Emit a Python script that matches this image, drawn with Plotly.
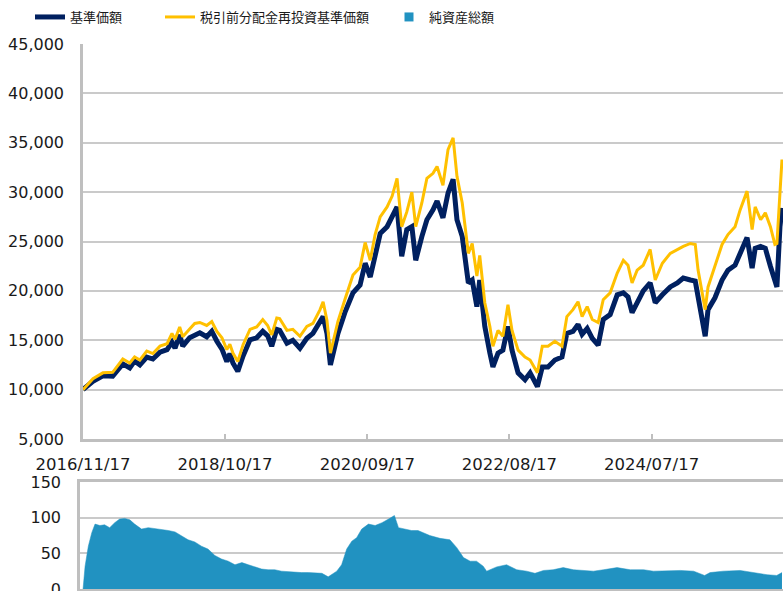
import plotly.graph_objects as go

# ---------------- data ----------------
dates = [
    "2016-11-17", "2017-01-05", "2017-02-23", "2017-04-12", "2017-06-01", "2017-07-05",
    "2017-07-29", "2017-08-24", "2017-09-27", "2017-10-27", "2017-12-01", "2018-01-05",
    "2018-01-29", "2018-02-13", "2018-03-08", "2018-03-23", "2018-04-26", "2018-05-21",
    "2018-06-15", "2018-07-19", "2018-08-13", "2018-09-07", "2018-10-02", "2018-10-26",
    "2018-11-10", "2018-11-25", "2018-12-19", "2019-01-14", "2019-02-17", "2019-03-22",
    "2019-04-21", "2019-05-15", "2019-06-04", "2019-06-29", "2019-07-13", "2019-08-18",
    "2019-09-16", "2019-10-21", "2019-11-24", "2019-12-24", "2020-01-28", "2020-02-12",
    "2020-03-02", "2020-03-19", "2020-04-03", "2020-04-25", "2020-05-29", "2020-07-08",
    "2020-08-12", "2020-09-06", "2020-10-01", "2020-10-25", "2020-11-19", "2020-12-23",
    "2021-01-17", "2021-02-10", "2021-03-05", "2021-03-30", "2021-04-24", "2021-05-13",
    "2021-06-12", "2021-07-07", "2021-08-06", "2021-08-26", "2021-09-24", "2021-10-19",
    "2021-11-13", "2021-12-02", "2021-12-28", "2022-01-12", "2022-01-27", "2022-02-15",
    "2022-03-10", "2022-03-24", "2022-04-18", "2022-05-13", "2022-05-28", "2022-06-22",
    "2022-07-16", "2022-08-10", "2022-08-30", "2022-09-29", "2022-11-02", "2022-11-27",
    "2023-01-02", "2023-01-26", "2023-02-23", "2023-03-29", "2023-05-03", "2023-05-27",
    "2023-06-26", "2023-07-21", "2023-08-10", "2023-09-04", "2023-09-29", "2023-10-28",
    "2023-11-22", "2023-12-26", "2024-01-30", "2024-02-29", "2024-03-23", "2024-04-12",
    "2024-05-07", "2024-06-06", "2024-07-10", "2024-08-04", "2024-09-08", "2024-10-17",
    "2024-11-21", "2024-12-20", "2025-01-24", "2025-02-17", "2025-03-03", "2025-03-27",
    "2025-04-07", "2025-04-21", "2025-05-25", "2025-06-29", "2025-07-28", "2025-09-01",
    "2025-09-26", "2025-10-30", "2025-11-24", "2025-12-09", "2026-01-05", "2026-01-28",
    "2026-02-22", "2026-03-16", "2026-03-26", "2026-04-10", "2026-04-20",
]

# 基準価額
nav = [
    10000, 10850, 11400, 11350, 12600, 12200,
    12900, 12500, 13300, 13100, 13800, 14050,
    14800, 14200, 15550, 14400, 15250, 15550,
    15750, 15350, 15900, 14900, 14100, 12850,
    13650, 12700, 11850, 13400, 15050, 15250,
    15900, 15450, 14400, 16100, 16000, 14700,
    15000, 14200, 15200, 15700, 16900, 17400,
    15700, 12500, 13800, 15700, 17800, 19800,
    20600, 22800, 21400, 23500, 25800, 26500,
    27500, 28500, 23500, 26200, 26500, 23100,
    25500, 27200, 28200, 29100, 27400, 29900,
    31300, 27200, 25500, 23100, 20800, 21100,
    18400, 21100, 16400, 13700, 12300, 13700,
    14000, 16400, 14000, 11700, 11000, 11700,
    10300, 12300, 12300, 13000, 13300, 15700,
    15900, 16600, 15600, 16200, 15200, 14500,
    17100, 17600, 19600, 19800, 19400, 17800,
    18900, 20000, 20800, 18800, 19600, 20400,
    20800, 21300, 21100, 21000, 19400, 16400,
    15400, 18100, 19300, 21100, 22100, 22600,
    23800, 25400, 22300, 24300, 24500, 24300,
    22500, 21100, 20400, 26500, 28400,
]

# 税引前分配金再投資基準価額
nav_reinvested = [
    10000, 11100, 11700, 11750, 13100, 12700,
    13300, 13000, 13900, 13650, 14400, 14650,
    15700, 15100, 16350, 15350, 16150, 16700,
    16800, 16500, 16900, 15900, 15250, 14050,
    14600, 13700, 12850, 14550, 16100, 16350,
    17100, 16500, 15550, 17250, 17200, 16000,
    16100, 15400, 16400, 16700, 18100, 18900,
    17000, 13700, 15000, 16900, 19100, 21600,
    22400, 24900, 23100, 25700, 27500, 28500,
    29600, 31400, 26500, 28000, 30000, 26500,
    28900, 31400, 31900, 32600, 30700, 34300,
    35500, 31600, 28900, 26200, 23800, 24800,
    21500, 23600, 18800, 16400, 14400, 16000,
    15400, 18600, 16000, 14000, 13300, 13000,
    11700, 14400, 14400, 14900, 14400, 17400,
    18100, 18900, 17400, 18400, 17100, 16800,
    19100, 19800, 21800, 23100, 22600, 20800,
    22100, 22600, 24200, 21100, 22800, 23800,
    24200, 24500, 24800, 24700, 22100, 19100,
    18100, 20400, 22500, 24700, 25700, 26500,
    28200, 30100, 26200, 28500, 27200, 27900,
    26500, 24700, 24800, 30300, 33300,
]

# 純資産総額 (億円)
asset_dates = [
    "2016-11-17", "2016-11-27", "2016-12-13", "2016-12-30", "2017-01-15", "2017-02-08",
    "2017-03-03", "2017-03-28", "2017-04-22", "2017-05-16", "2017-06-10", "2017-07-05",
    "2017-07-29", "2017-09-01", "2017-10-04", "2017-11-06", "2017-12-09", "2018-01-11",
    "2018-02-13", "2018-03-16", "2018-04-18", "2018-05-21", "2018-06-23", "2018-07-25",
    "2018-08-28", "2018-09-30", "2018-11-02", "2018-12-05", "2019-01-08", "2019-02-09",
    "2019-03-12", "2019-04-15", "2019-05-17", "2019-06-19", "2019-07-22", "2019-08-24",
    "2019-09-26", "2019-10-29", "2019-12-01", "2020-01-04", "2020-02-06", "2020-03-08",
    "2020-03-25", "2020-04-19", "2020-05-13", "2020-06-07", "2020-07-02", "2020-07-26",
    "2020-08-20", "2020-09-22", "2020-10-25", "2020-11-28", "2020-12-30", "2021-01-28",
    "2021-02-17", "2021-03-20", "2021-04-22", "2021-05-24", "2021-06-18", "2021-07-21",
    "2021-09-09", "2021-10-28", "2021-12-01", "2022-01-03", "2022-02-05", "2022-03-08",
    "2022-04-10", "2022-04-27", "2022-06-15", "2022-08-03", "2022-09-22", "2022-11-10",
    "2022-12-21", "2023-02-01", "2023-03-20", "2023-05-09", "2023-06-28", "2023-08-16",
    "2023-10-05", "2023-11-23", "2024-01-29", "2024-04-03", "2024-06-08", "2024-07-26",
    "2024-10-01", "2024-12-06", "2025-02-09", "2025-04-04", "2025-05-01", "2025-07-05",
    "2025-09-26", "2025-12-01", "2026-02-06", "2026-03-25", "2026-04-20",
]
net_assets = [
    0, 32, 60, 79, 91, 89,
    90, 86, 93, 98, 99, 97,
    91, 84, 86, 85, 83, 82,
    80, 75, 69, 66, 60, 56,
    47, 42, 39, 34, 37, 34,
    31, 28, 27, 27, 25, 24,
    23, 23, 23, 23, 22, 17,
    20, 25, 34, 56, 67, 72,
    84, 91, 89, 93, 98, 103,
    86, 84, 82, 82, 79, 75,
    71, 69, 58, 44, 39, 39,
    32, 25, 31, 34, 27, 25,
    22, 26, 27, 30, 27, 26,
    25, 27, 30, 27, 27, 25,
    26, 26, 25, 19, 23, 25,
    26, 23, 20, 19, 23,
]

x_tick_dates = ["2016-11-17", "2018-10-17", "2020-09-17", "2022-08-17", "2024-07-17"]
x_tick_labels = ["2016/11/17", "2018/10/17", "2020/09/17", "2022/08/17", "2024/07/17"]

# ---------------- styling ----------------
W, H = 783, 591
NAVY = "#002060"
GOLD = "#FFC000"
TEAL = "#2192C1"
GRID = "#cacaca"
AXIS = "#bfbfbf"
TXT = "#1a1a1a"
TICK_FONT = dict(family="DejaVu Sans, Verdana, sans-serif", size=16, color=TXT)
LEG_FONT = dict(family="Noto Sans CJK JP, sans-serif", size=13, color=TXT)

fig = go.Figure()
fig.add_trace(go.Scatter(x=dates, y=nav, mode="lines", name="基準価額",
                         line=dict(color=NAVY, width=5), xaxis="x", yaxis="y",
                         legend="legend"))
fig.add_trace(go.Scatter(x=dates, y=nav_reinvested, mode="lines",
                         name="税引前分配金再投資基準価額",
                         line=dict(color=GOLD, width=3), xaxis="x", yaxis="y",
                         legend="legend2"))
fig.add_trace(go.Scatter(x=asset_dates, y=net_assets, mode="lines", fill="tozeroy",
                         line=dict(color=TEAL, width=0.5), fillcolor=TEAL,
                         xaxis="x2", yaxis="y2", showlegend=False))
fig.add_trace(go.Scatter(x=[None], y=[None], mode="markers", name="純資産総額",
                         marker=dict(symbol="square", size=9, color=TEAL),
                         xaxis="x2", yaxis="y2", legend="legend3"))

def px_x(p):
    return p / W

def px_y(p):
    return 1 - p / H

range_end = "2026-04-25"

fig.update_layout(
    width=W, height=H,
    margin=dict(l=0, r=0, t=0, b=0, autoexpand=False),
    paper_bgcolor="white", plot_bgcolor="white",
    xaxis=dict(domain=[px_x(83), 1], anchor="y", type="date",
               range=[dates[0], range_end],
               tickvals=x_tick_dates, ticktext=x_tick_labels,
               ticks="inside", ticklen=5, tickwidth=2, tickcolor=AXIS,
               showline=True, linecolor=AXIS, linewidth=2.5,
               showgrid=False, zeroline=False,
               tickfont=dict(TICK_FONT, size=16.5), ticklabelstandoff=8),
    yaxis=dict(domain=[px_y(439), px_y(44)], anchor="x",
               range=[5000, 45000], dtick=5000, tickformat=",",
               showgrid=True, gridcolor=GRID, gridwidth=1.5,
               showline=True, linecolor=AXIS, linewidth=2.5,
               zeroline=False, ticks="", tickfont=TICK_FONT,
               ticklabelstandoff=13),
    xaxis2=dict(domain=[px_x(80), 1], anchor="y2", type="date",
                range=["2016-11-02", range_end],
                showticklabels=False, ticks="",
                showline=True, mirror=True, linecolor=AXIS, linewidth=2.5,
                showgrid=False, zeroline=False),
    yaxis2=dict(domain=[px_y(589), px_y(482)], anchor="x2",
                range=[0, 150], dtick=50,
                showgrid=True, gridcolor=GRID, gridwidth=1.5,
                showline=True, linecolor=AXIS, linewidth=2.5,
                zeroline=False, ticks="", tickfont=TICK_FONT,
                ticklabelstandoff=13, ticklabeloverflow="allow"),
    legend=dict(x=px_x(30), y=px_y(17), xanchor="left", yanchor="middle",
                orientation="h", font=LEG_FONT, bgcolor="rgba(0,0,0,0)"),
    legend2=dict(x=px_x(160), y=px_y(17), xanchor="left", yanchor="middle",
                 orientation="h", font=LEG_FONT, bgcolor="rgba(0,0,0,0)"),
    legend3=dict(x=px_x(389), y=px_y(17), xanchor="left", yanchor="middle",
                 orientation="h", font=LEG_FONT, bgcolor="rgba(0,0,0,0)"),
)

fig.write_html("out.html",
               config={"displayModeBar": False},
               post_script="document.body.style.margin='0px';"
                           "document.body.style.overflow='hidden';")
